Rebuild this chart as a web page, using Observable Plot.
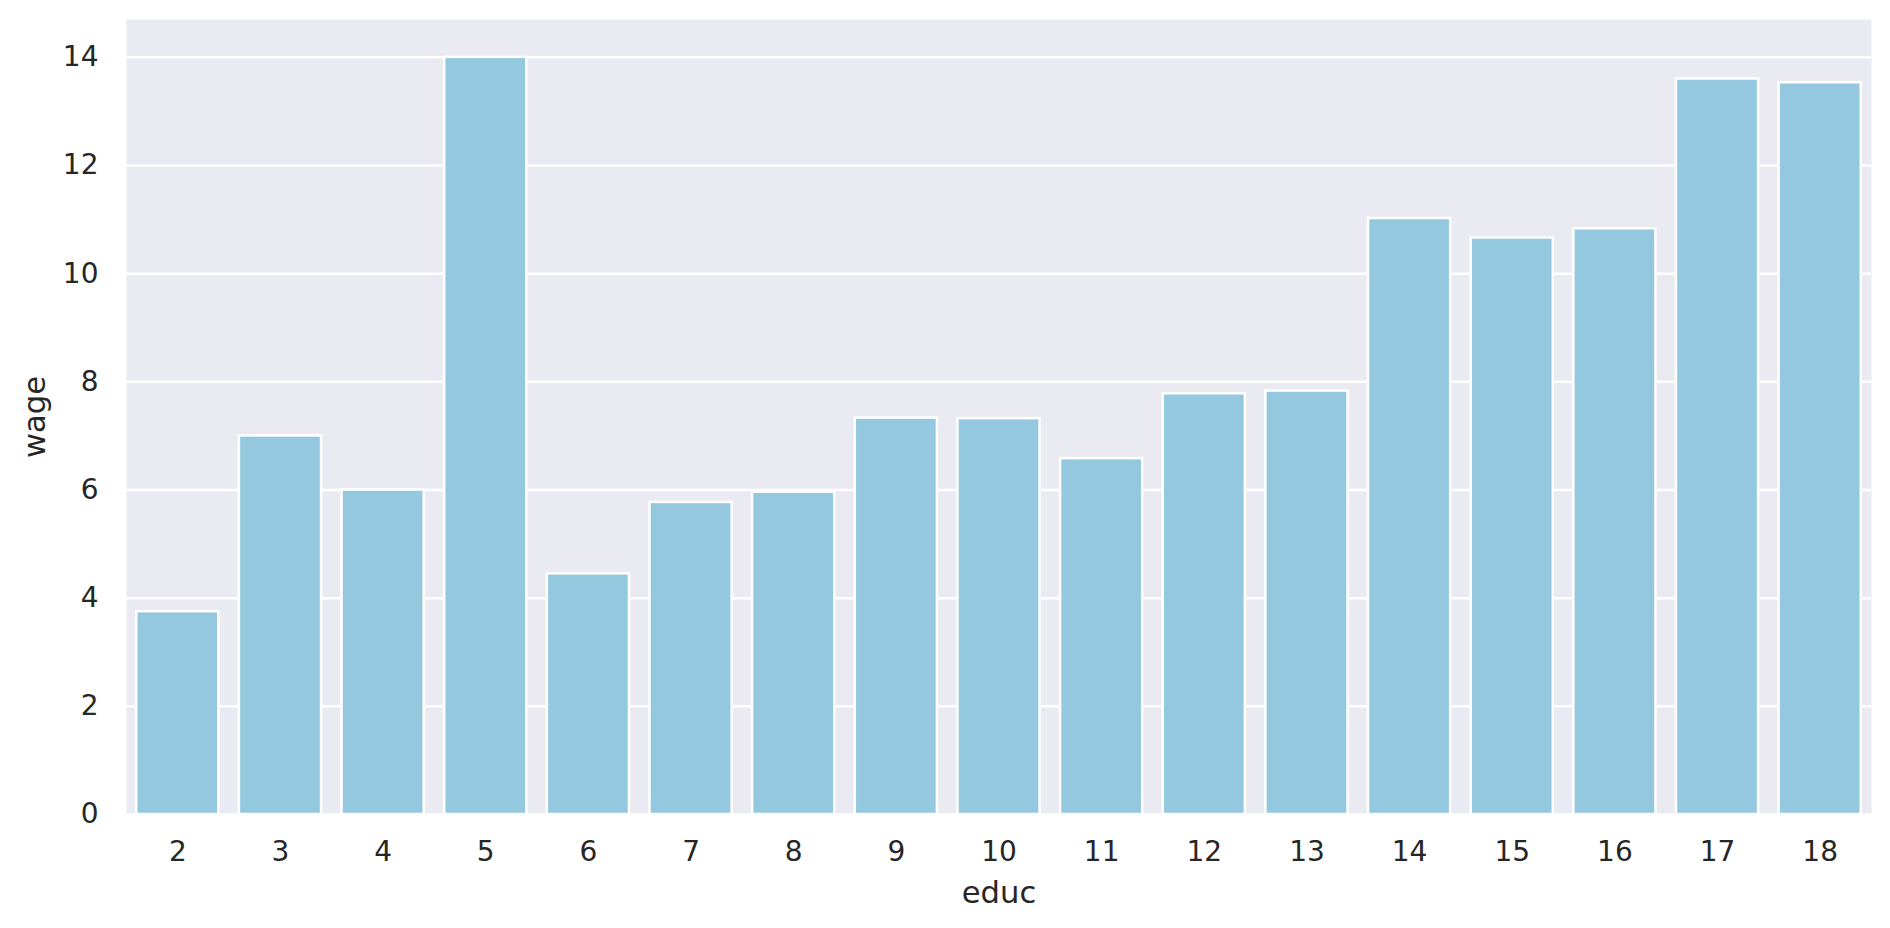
<!DOCTYPE html>
<html>
<head>
<meta charset="utf-8">
<script src="https://cdn.jsdelivr.net/npm/d3@7"></script>
<script src="https://cdn.jsdelivr.net/npm/@observablehq/plot@0.6"></script>
<style>
  html, body { margin: 0; padding: 0; background: #ffffff; }
  #chart { width: 1890px; height: 928px; }
  g[aria-label="x-axis label"], g[aria-label="y-axis label"],
  g[aria-label="x-axis label"] text, g[aria-label="y-axis label"] text { font-size: 30.6px; }
</style>
</head>
<body>
<div id="chart"></div>
<script>
// Data
const educ = [2, 3, 4, 5, 6, 7, 8, 9, 10, 11, 12, 13, 14, 15, 16, 17, 18];
const wage = [3.75, 7.00, 6.00, 14.00, 4.45, 5.77, 5.96, 7.33, 7.32, 6.58, 7.78, 7.83, 11.02, 10.66, 10.83, 13.60, 13.53];
const yTicks = [0, 2, 4, 6, 8, 10, 12, 14];
const xLabel = "educ";
const yLabel = "wage";

const rows = educ.map((e, i) => ({educ: e, wage: wage[i]}));

const chart = Plot.plot({
  width: 1890,
  height: 928,
  marginLeft: 126,
  marginRight: 19,
  marginTop: 19,
  marginBottom: 114,
  style: {
    fontFamily: "'DejaVu Sans', sans-serif",
    fontSize: "28px",
    color: "#262626",
    background: "#ffffff",
    overflow: "visible"
  },
  x: {type: "band", domain: educ, paddingInner: 0.2, paddingOuter: 0.1, round: false},
  y: {domain: [0, 14.7]},
  marks: [
    Plot.frame({fill: "#EAEAF2", stroke: "none"}),
    Plot.gridY(yTicks, {stroke: "#ffffff", strokeOpacity: 1, strokeWidth: 2.5}),
    Plot.barY(rows, {x: "educ", y: "wage", fill: "#93C8DE", stroke: "#ffffff", strokeWidth: 2.5}),
    Plot.axisY(yTicks, {
      tickSize: 0, tickPadding: 28, tickFormat: d3.format("d"),
      label: yLabel, labelAnchor: "center", labelOffset: 103, labelArrow: "none"
    }),
    Plot.axisX({
      tickSize: 0, tickPadding: 27,
      label: xLabel, labelAnchor: "center", labelOffset: 88, labelArrow: "none"
    })
  ]
});
document.getElementById("chart").appendChild(chart);
</script>
</body>
</html>
